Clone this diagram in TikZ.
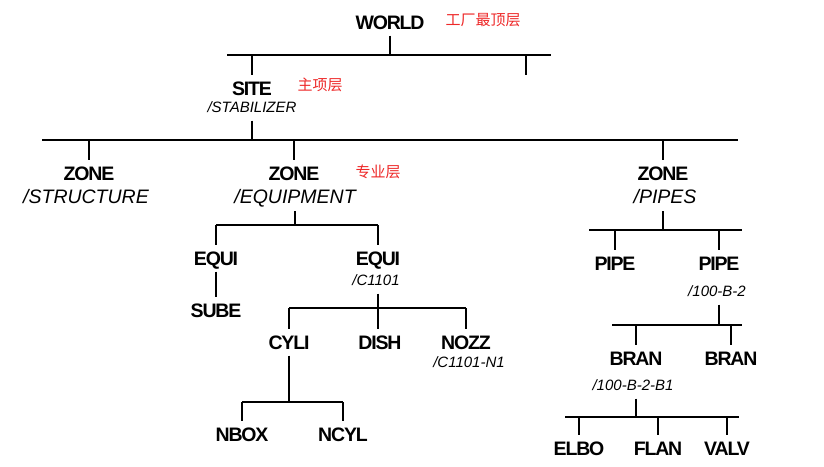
\documentclass[tikz,border=0pt]{standalone}
\usepackage{fontspec}
\setmainfont{Liberation Sans}
\newfontfamily\entfont[LetterSpace=-6]{Liberation Sans}
\newfontfamily\cjk{Noto Sans CJK SC}
\definecolor{notered}{RGB}{238,40,40}
\tikzset{
  tree/.style={line width=2.3pt, black},
  ent/.style={font=\entfont\fontsize{19.5}{21}\selectfont\bfseries, inner sep=0pt, text height=14pt, text depth=0pt, outer ysep=6.5pt},
  ref/.style={font=\fontsize{15}{17}\selectfont\itshape, inner sep=0pt, text height=11pt, text depth=0pt, outer ysep=8pt},
  bigref/.style={ref, font=\fontsize{19.5}{21}\selectfont\itshape, text height=14pt},
  note/.style={font=\cjk\fontsize{15}{17}\selectfont, text=notered, inner sep=0pt},
}

\begin{document}
\begin{tikzpicture}[x=1pt,y=-1pt]
  \fill[white] (0,0) rectangle (824,466);
  \useasboundingbox (0,0) rectangle (824,466);
  % levels
  \node[ent] (world) at (390,22) {WORLD};
  \node[note] (note-world) at (483,20) {工厂最顶层};
  \node[ent] (site) at (252,88) {SITE};
  \node[ref] (site-name) at (252,107) {/STABILIZER};
  \node[note] (note-site) at (320,85) {主项层};
  \node[ent] (zone-str) at (89,173) {ZONE};
  \node[bigref] (zone-str-name) at (86,196) {/STRUCTURE};
  \node[ent] (zone-eq) at (294,173) {ZONE};
  \node[bigref] (zone-eq-name) at (295,196) {/EQUIPMENT};
  \node[note] (note-zone) at (378,172) {专业层};
  \node[ent] (zone-pi) at (663,173) {ZONE};
  \node[bigref] (zone-pi-name) at (665,196) {/PIPES};
  % equipment
  \node[ent] (equi-a) at (216,258) {EQUI};
  \node[ent] (sube) at (216,310) {SUBE};
  \node[ent] (equi-b) at (378,258) {EQUI};
  \node[ref] (equi-b-name) at (376,280) {/C1101};
  \node[ent] (cyli) at (289,342) {CYLI};
  \node[ent] (dish) at (380,342) {DISH};
  \node[ent] (nozz) at (466,342) {NOZZ};
  \node[ref] (nozz-name) at (469,362) {/C1101-N1};
  \node[ent] (nbox) at (242,434) {NBOX};
  \node[ent] (ncyl) at (343,434) {NCYL};
  % pipes
  \node[ent] (pipe-a) at (615,263) {PIPE};
  \node[ent] (pipe-b) at (719,263) {PIPE};
  \node[ref] (pipe-b-name) at (717,291) {/100-B-2};
  \node[ent] (bran-a) at (636,358) {BRAN};
  \node[ref] (bran-a-name) at (633,385) {/100-B-2-B1};
  \node[ent] (bran-b) at (731,358) {BRAN};
  \node[ent] (elbo) at (579,448) {ELBO};
  \node[ent] (flan) at (658,448) {FLAN};
  \node[ent] (valv) at (727,448) {VALV};
  % bars
  \coordinate (bar-world-l) at (227,55);  \coordinate (bar-world-r) at (551,55);
  \coordinate (bar-site-l) at (42,140);   \coordinate (bar-site-r) at (738,140);
  \coordinate (bar-eq-l) at (216,225);    \coordinate (bar-eq-r) at (378,225);
  \coordinate (bar-equi-l) at (289,308);  \coordinate (bar-equi-r) at (466,308);
  \coordinate (bar-cyli-l) at (242,402);  \coordinate (bar-cyli-r) at (343,402);
  \coordinate (bar-pi-l) at (589,230);    \coordinate (bar-pi-r) at (742,230);
  \coordinate (bar-pipe-l) at (612,325);  \coordinate (bar-pipe-r) at (742,325);
  \coordinate (bar-bran-l) at (565,417);  \coordinate (bar-bran-r) at (739,417);
  \coordinate (world-more) at (526,75);
  \foreach \b in {world,site,eq,equi,cyli,pi,pipe,bran} {%
    \draw[tree] (bar-\b-l) -- (bar-\b-r);
  }
  % stems
  \draw[tree] (world.south) -- (world.south |- bar-world-l);
  \draw[tree] (site-name.south) -- (site-name.south |- bar-site-l);
  \draw[tree] (zone-eq-name.south) -- (zone-eq-name.south |- bar-eq-l);
  \draw[tree] (equi-a.south) -- (sube.north);
  \draw[tree] (equi-b-name.south -| equi-b) -- (dish.north -| equi-b);
  \draw[tree] (cyli.south) -- (cyli.south |- bar-cyli-l);
  \draw[tree] (zone-pi-name.south -| zone-pi) -- (zone-pi.south |- bar-pi-l);
  \draw[tree] (pipe-b-name.south -| pipe-b) -- (pipe-b.south |- bar-pipe-l);
  \draw[tree] (bran-a-name.south -| bran-a) -- (bran-a.south |- bar-bran-l);
  \draw[tree] (world-more |- bar-world-l) -- (world-more);
  % drops
  \foreach \c/\b in {site/world, zone-str/site, zone-eq/site, zone-pi/site,
      equi-a/eq, equi-b/eq, cyli/equi, nozz/equi, nbox/cyli, ncyl/cyli,
      pipe-a/pi, pipe-b/pi, bran-a/pipe, bran-b/pipe,
      elbo/bran, flan/bran, valv/bran} {%
    \draw[tree] (\c.north |- bar-\b-l) -- (\c.north);
  }
\end{tikzpicture}
\end{document}
